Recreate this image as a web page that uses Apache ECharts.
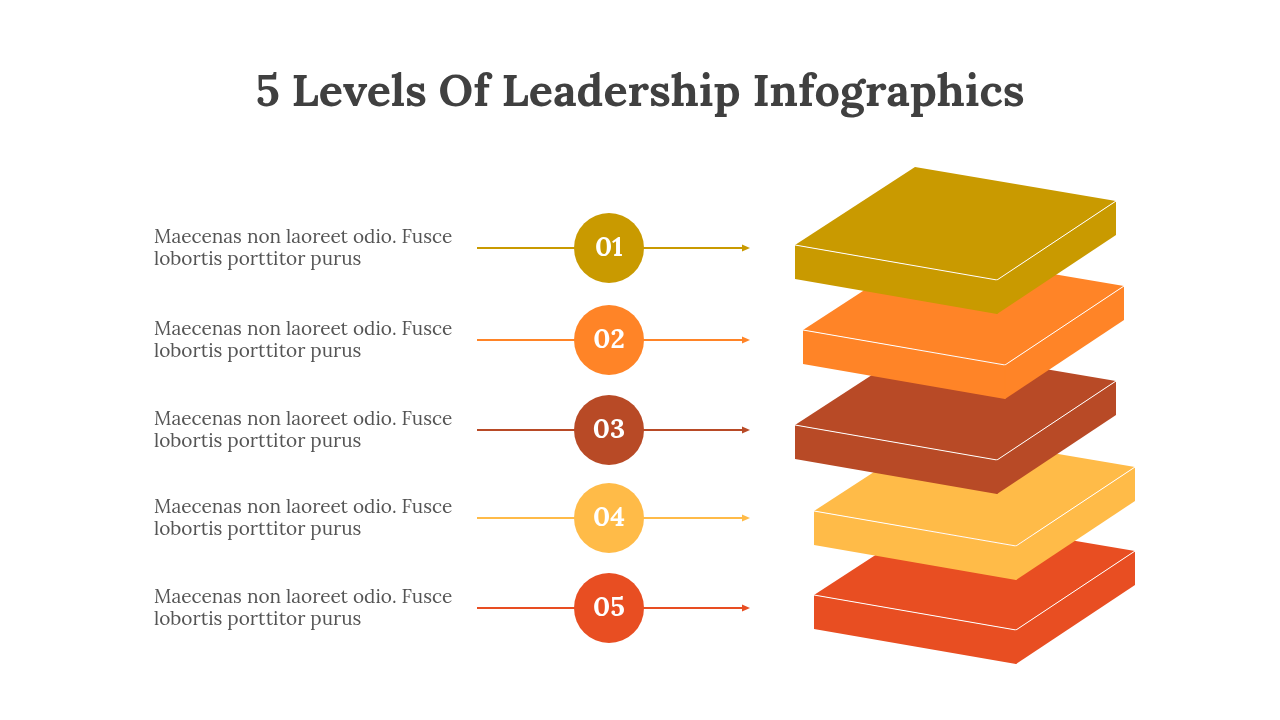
<!DOCTYPE html>
<html><head><meta charset="utf-8">
<script src="https://cdn.jsdelivr.net/npm/echarts@6/dist/echarts.min.js"></script>
<style>html,body{margin:0;padding:0;background:#fff}#c{width:1280px;height:720px}</style>
</head><body><div id="c"></div>
<script>
const labels = ['01','02','03','04','05'];
const colors = ['#C99A00','#FF8427','#B84A26','#FFBB48','#E84E22'];
const texts = ['Maecenas non laoreet odio. Fusce\nlobortis porttitor purus','Maecenas non laoreet odio. Fusce\nlobortis porttitor purus','Maecenas non laoreet odio. Fusce\nlobortis porttitor purus','Maecenas non laoreet odio. Fusce\nlobortis porttitor purus','Maecenas non laoreet odio. Fusce\nlobortis porttitor purus'];
const rowY = [248, 340, 430, 518, 608];
const slabX = [795, 803, 795, 814, 814];
const slabY = [245, 330, 425, 511, 595];

const chart = echarts.init(document.getElementById('c'));
const serif = 'Lora, "DejaVu Serif", "Liberation Serif", serif';
function rowRender(params, api){
  const i = api.value(0);
  const p = api.coord([609, api.value(1)]);
  const a = api.coord([477, api.value(1)]);
  const b = api.coord([750, api.value(1)]);
  const c = colors[i];
  return {type:'group', children:[
    {type:'line', shape:{x1:a[0],y1:a[1],x2:b[0]-5,y2:b[1]}, style:{stroke:c,lineWidth:2}},
    {type:'polygon', shape:{points:[[b[0],b[1]],[b[0]-8,b[1]-3.5],[b[0]-8,b[1]+3.5]]}, style:{fill:c}},
    {type:'circle', shape:{cx:p[0],cy:p[1],r:35}, style:{fill:c}},
    {type:'text', x:p[0], y:p[1], style:{text:labels[i], fill:'#fff', font:'bold 27px '+serif, align:'center', verticalAlign:'middle'}},
    {type:'text', x:154, y:p[1]-21, style:{text:texts[i], fill:'#555', font:'19px '+serif, lineHeight:22, align:'left', verticalAlign:'top'}}
  ]};
}
function slabRender(params, api){
  const i = api.value(0);
  const L = api.coord([api.value(1), api.value(2)]);
  const x=L[0], y=L[1], t=34, c=colors[i];
  const back=[x+120,y-78], right=[x+321,y-44], front=[x+202,y+35];
  return {type:'group', children:[
    {type:'polygon', shape:{points:[[x,y],back,right,front]}, style:{fill:c}},
    {type:'polygon', shape:{points:[[x,y],front,[front[0],front[1]+t],[x,y+t]]}, style:{fill:c}},
    {type:'polygon', shape:{points:[front,right,[right[0],right[1]+t],[front[0],front[1]+t]]}, style:{fill:c}},
    {type:'polyline', shape:{points:[[x,y],front,right]}, style:{stroke:'#fff',lineWidth:1,fill:null}},
    {type:'line', shape:{x1:front[0],y1:front[1],x2:front[0],y2:front[1]+t}, style:{stroke:c,lineWidth:1}}
  ]};
}
const slabData = [4,3,2,1,0].map(i=>[i, slabX[i], slabY[i]]);
chart.setOption({
  animation:false,
  title:{text:'5 Levels Of Leadership Infographics', left:'center', top:66, textStyle:{fontFamily:serif, fontSize:45, fontWeight:'bold', color:'#404040'}},
  grid:{left:0,right:0,top:0,bottom:0},
  xAxis:{type:'value', min:0, max:1280, show:false},
  yAxis:{type:'value', min:0, max:720, inverse:true, show:false},
  series:[
    {type:'custom', renderItem:rowRender, data:labels.map((l,i)=>[i,rowY[i]])},
    {type:'custom', renderItem:slabRender, data:slabData}
  ]
});
</script></body></html>
